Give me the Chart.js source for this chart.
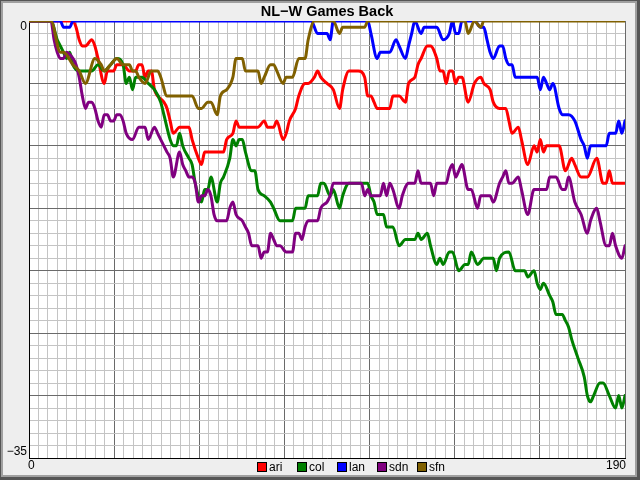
<!DOCTYPE html>
<html>
<head>
<meta charset="utf-8">
<title>NL-W Games Back</title>
<script src="https://cdn.jsdelivr.net/npm/chart.js@4.4.1/dist/chart.umd.min.js"></script>
<style>
    html, body { margin: 0; padding: 0; background: #eeeeee; }
    #caixa { width: 640px; height: 480px; }
</style>
</head>
<body>
<div id="caixa"><canvas id="grafGB" width="640" height="480"></canvas></div>
<script>
// times e cores
const times = ['ari', 'col', 'lan', 'sdn', 'sfn']
const cores = ['#ff0000', '#008000', '#0000ff', '#800080', '#806000']

// [jogo, jogos atras]
const ari = [[0,0],[14,0],[15,-0.5],[16,-1.5],[17,-2],[18,-2],[20,-1.5],[21,-2],[22,-3],[24,-5],[25,-4],[27,-4],[28,-3.5],[30,-3.5],[32,-4],[34,-4],[35,-3.5],[36,-3.5],[37,-4.5],[38,-4],[39,-4],[40,-5.5],[41,-6],[43,-6.5],[44,-7],[45,-8],[46,-9],[48,-8.5],[51,-8.5],[52,-9.5],[54,-11],[55,-11.5],[56,-10.5],[62,-10.5],[63,-9.5],[65,-9],[66,-8],[67,-8.5],[69,-8.5],[73,-8.5],[75,-8],[76,-8.5],[78,-8.5],[79,-8],[81,-9.5],[82,-9],[83,-8],[85,-7],[86,-6],[88,-5],[89,-5],[91,-4.5],[92,-4],[93,-4.5],[95,-5],[97,-5.5],[99,-7],[100,-5.5],[102,-4],[105,-4],[107,-4.5],[108,-6],[109,-6],[110,-6.5],[111,-7],[115,-7],[116,-6],[118,-6],[120,-6.5],[121,-5],[123,-4.5],[124,-3.5],[125,-3],[127,-2],[128,-2],[130,-3],[131,-4],[132,-4],[133,-5],[134,-4],[135,-4],[136,-5],[137,-4.5],[138,-4.5],[140,-6.5],[142,-5],[144,-4.5],[145,-5],[147,-5.5],[148,-6.5],[150,-7],[152,-7],[153,-8],[154,-9],[156,-8.5],[157,-9.5],[159,-11.5],[161,-10],[162,-10.5],[163,-9.5],[164,-10.5],[165,-10],[169,-10],[171,-12],[173,-11],[174,-11.5],[176,-12.5],[178,-12.5],[181,-11],[183,-13],[184,-13],[185,-12],[186,-13],[190,-13]]

const col = [[0,0],[7,0],[9,-1.5],[10,-2],[11,-2.5],[12,-3],[13,-2.5],[14,-3.5],[16,-4],[18,-4],[20,-4],[22,-3.5],[24,-4],[26,-3.5],[28,-3],[30,-3.5],[31,-5],[32,-4.5],[33,-5.5],[34,-4.5],[36,-4.5],[38,-5],[40,-5.5],[42,-6.5],[43,-7.5],[45,-9.5],[46,-10],[47,-10],[48,-9],[49,-10],[51,-11],[52,-11.5],[53,-13],[55,-14.5],[56,-13.5],[57,-13.5],[58,-12.5],[60,-14.5],[61,-13],[62,-12.5],[64,-11],[65,-9.5],[66,-10],[67,-9.5],[68,-9.5],[69,-10.5],[71,-12],[72,-12],[73,-13.5],[75,-14],[77,-14.5],[78,-15],[80,-16],[84,-16],[85,-15],[88,-15],[89,-14],[92,-14],[93,-13],[94,-13],[96,-14],[97,-13.5],[99,-15],[100,-14],[102,-13],[108,-13],[109,-14],[110,-14.5],[111,-15.5],[113,-15.5],[114,-16.5],[116,-16.5],[118,-18],[120,-17.5],[123,-17.5],[124,-17],[125,-17.5],[127,-17],[128,-18],[130,-19.5],[131,-19],[132,-19.5],[134,-18.5],[135,-18.5],[137,-20],[139,-19.5],[140,-19.5],[141,-18.5],[143,-19.5],[145,-19],[148,-19],[149,-20],[150,-19],[153,-18.5],[155,-20],[158,-20],[159,-20.5],[161,-20],[162,-21],[163,-21.5],[164,-21],[166,-22],[167,-22.5],[168,-23.5],[170,-23.5],[171,-24],[172,-24.5],[173,-25.5],[175,-27],[177,-28.5],[178,-30],[179,-30.5],[180,-30],[182,-29],[183,-29],[185,-30],[187,-31],[188,-30],[189,-31],[190,-30]]

const lan = [[0,0],[10,0],[11,-0.5],[13,-0.5],[14,0],[90,0],[92,-1],[95,-1],[96,-1.5],[97,0],[108,0],[109,-1],[111,-3],[112,-2.5],[115,-2.5],[117,-1.5],[118,-2],[120,-3],[121,-2],[122,-1],[123,0],[125,-1],[126,-0.5],[130,-0.5],[132,-1.5],[134,-1],[135,0],[136,-1],[137,-1],[138,0],[142,0],[144,-0.5],[145,-0.5],[146,-1.5],[147,-2.5],[148,-3],[150,-2],[151,-2],[152,-3],[153,-3.5],[154,-3.5],[155,-4.5],[162,-4.5],[163,-5.5],[164,-4.5],[165,-5],[166,-5.5],[167,-5],[169,-7],[170,-7.5],[172,-7.5],[174,-8],[176,-9.5],[177,-10],[178,-11],[179,-10],[184,-10],[185,-9],[187,-9],[188,-8],[189,-9],[190,-8]]

const sdn = [[0,0],[7,0],[8,-1.5],[9,-2.5],[10,-3],[11,-3],[12,-2.5],[14,-3],[15,-3.5],[16,-4.5],[17,-6],[18,-7],[19,-6.5],[20,-6.5],[21,-7],[22,-8],[23,-8.5],[24,-7.5],[25,-7.5],[26,-8],[27,-8],[28,-7.5],[29,-7.5],[30,-8],[31,-9],[33,-9.5],[35,-8.5],[37,-8.5],[38,-9.5],[40,-8.5],[41,-9],[42,-9.5],[43,-10],[44,-10.5],[45,-11],[46,-12.5],[48,-10.5],[49,-11.5],[50,-12],[51,-12.5],[52,-12.5],[53,-13],[54,-14.5],[55,-14],[56,-14],[57,-13.5],[58,-14],[59,-15.5],[60,-16],[63,-16],[64,-15],[65,-14.5],[66,-15.5],[68,-16],[69,-16.5],[70,-17],[71,-18],[73,-18],[74,-19],[75,-18.5],[76,-18.5],[77,-17],[78,-17.5],[79,-18],[80,-18],[82,-18.5],[84,-18.5],[85,-17],[86,-17],[87,-17.5],[88,-16.5],[89,-16],[92,-16],[93,-15],[95,-14.5],[96,-14],[97,-13],[106,-13],[107,-14],[108,-13.5],[109,-14],[112,-14],[113,-13],[114,-14],[115,-13],[116,-13.5],[118,-15],[119,-14],[121,-13],[123,-13],[124,-12],[125,-13],[128,-13],[129,-14],[130,-13],[133,-13],[134,-12],[135,-11.5],[136,-12.5],[137,-12],[138,-11.5],[140,-13.5],[141,-13.5],[143,-15],[144,-14],[147,-14],[148,-14.5],[150,-13],[151,-12.5],[152,-12],[153,-13],[154,-13],[156,-12.5],[157,-13.5],[159,-15.5],[161,-13.5],[165,-13.5],[166,-12.5],[168,-12.5],[170,-13.5],[171,-13.5],[172,-12.5],[174,-14.5],[176,-15.5],[178,-17],[179,-16],[181,-15],[182,-16],[184,-18],[185,-18],[186,-17],[187,-18],[189,-19],[190,-18]]

const sfn = [[0,0],[7,0],[10,-2.5],[11,-2.5],[14,-3.5],[16,-4],[18,-5],[21,-3],[23,-3.5],[24,-4],[26,-3.5],[28,-3],[30,-3.5],[32,-3.5],[33,-4],[34,-4],[35,-4.5],[37,-5],[39,-4],[41,-4],[42,-4.5],[44,-6],[52,-6],[54,-7],[55,-7],[57,-6.5],[58,-6.5],[60,-7.5],[61,-6],[63,-5.5],[65,-4.5],[66,-3],[68,-3],[69,-4],[73,-4],[74,-5],[75,-4.5],[77,-3.5],[78,-3.5],[79,-4],[81,-5],[82,-4.5],[84,-4.5],[86,-3],[88,-3],[89,-1.5],[91,0],[97,0],[99,-1],[100,-0.5],[107,-0.5],[108,0],[139,0],[140,-1],[142,0],[144,-0.5],[145,0],[190,0]]

const series = [ari, col, lan, sdn, sfn]

// eixos
const xMin = 0
const xMax = 190
const yMin = -35
const yMax = 0
const xLabels = [0, 190]
const yLabels = [0, -35]

const grafGB = document.getElementById('grafGB')

Chart.defaults.font.family = "'Liberation Sans', Arial, sans-serif"
Chart.defaults.color = '#000000'

const corMenor = '#c4c4c4'
const corMaior = '#6a6a6a'

// fundo, moldura, legenda e rotulos das pontas
const moldura = {
    id: 'moldura',
    beforeDraw(chart) {
        const ctx = chart.ctx
        const a = chart.chartArea
        ctx.save()
        ctx.fillStyle = '#eeeeee'
        ctx.fillRect(0, 0, 640, 480)
        ctx.fillStyle = '#555555'
        ctx.fillRect(0, 0, 640, 1)
        ctx.fillRect(0, 0, 1, 480)
        ctx.fillRect(0, 477, 640, 3)
        ctx.fillRect(637, 0, 3, 480)
        ctx.fillStyle = '#a0a0a0'
        ctx.fillRect(1, 1, 636, 2)
        ctx.fillRect(1, 1, 2, 476)
        ctx.fillRect(1, 475, 636, 2)
        ctx.fillRect(635, 1, 2, 476)
        ctx.fillStyle = '#ffffff'
        ctx.fillRect(a.left, a.top, a.right - a.left, a.bottom - a.top)
        ctx.restore()
    },
    afterDraw(chart) {
        const ctx = chart.ctx
        const sx = chart.scales.x
        const sy = chart.scales.y
        ctx.save()
        ctx.font = "12px 'Liberation Sans', Arial, sans-serif"
        ctx.fillStyle = '#000000'
        ctx.textBaseline = 'middle'
        // y
        ctx.textAlign = 'right'
        ctx.fillText(String(yLabels[0]), sy.right - 2, sy.getPixelForValue(yLabels[0]) + 6)
        ctx.fillText(String(yLabels[1]).replace('-', '\u2212'), sy.right - 2, sy.getPixelForValue(yLabels[1]) - 6)
        // x
        ctx.textAlign = 'left'
        ctx.fillText(String(xLabels[0]), sx.getPixelForValue(xLabels[0]) - 1, sx.top + 8)
        ctx.textAlign = 'right'
        ctx.fillText(String(xLabels[1]), sx.getPixelForValue(xLabels[1]) + 1, sx.top + 8)
        // legenda
        ctx.font = "12px 'Liberation Sans', Arial, sans-serif"
        ctx.textAlign = 'left'
        chart.data.datasets.forEach((ds, i) => {
            const bx = 257 + i * 40
            const by = 462
            ctx.fillStyle = ds.borderColor
            ctx.fillRect(bx, by, 10, 10)
            ctx.strokeStyle = '#000000'
            ctx.lineWidth = 1
            ctx.strokeRect(bx + 0.5, by + 0.5, 9, 9)
            ctx.fillStyle = '#000000'
            ctx.fillText(ds.label, bx + 12, by + 5.5)
        })
        ctx.restore()
    }
}

new Chart(grafGB, {
    type: 'line',
    data: {
        datasets: series.map((s, i) => ({
            label: times[i],
            data: s.map(p => ({ x: p[0], y: p[1] })),
            borderColor: cores[i],
            backgroundColor: cores[i],
            borderWidth: 3,
            pointRadius: 0,
            cubicInterpolationMode: 'monotone',
            borderJoinStyle: 'round',
            borderCapStyle: 'round',
            fill: false,
            order: times.length - 1 - i
        }))
    },
    options: {
        responsive: false,
        animation: false,
        devicePixelRatio: 1,
        layout: { padding: { left: 0, right: 15, top: 0, bottom: 0 } },
        plugins: {
            legend: { display: false },
            tooltip: { enabled: false },
            title: {
                display: true,
                fullSize: false,
                text: 'NL\u2212W Games Back',
                color: '#000000',
                font: { size: 14.5, weight: 'bold' },
                padding: { top: 3, bottom: 0.6 }
            }
        },
        scales: {
            x: {
                type: 'linear',
                min: xMin,
                max: xMax,
                afterBuildTicks: (scale) => {
                    const t = []
                    for (let i = 0; i <= 63; i++) t.push({ value: xMin + i * (xMax - xMin) / 63 })
                    scale.ticks = t
                },
                afterFit: (scale) => { scale.height = 22 },
                ticks: { display: false },
                grid: {
                    drawTicks: false,
                    color: (c) => (c.index % 9 === 0 ? corMaior : corMenor)
                },
                border: { display: true, color: '#000000', width: 1 }
            },
            y: {
                type: 'linear',
                min: yMin,
                max: yMax,
                afterBuildTicks: (scale) => {
                    const t = []
                    for (let v = yMin; v <= yMax; v++) t.push({ value: v })
                    scale.ticks = t
                },
                afterFit: (scale) => { scale.width = 29 },
                ticks: { display: false },
                grid: {
                    drawTicks: false,
                    color: (c) => (Math.round(c.tick.value) % 5 === 0 ? corMaior : corMenor)
                },
                border: { display: true, color: '#000000', width: 1 }
            }
        }
    },
    plugins: [moldura]
})
</script>
</body>
</html>
